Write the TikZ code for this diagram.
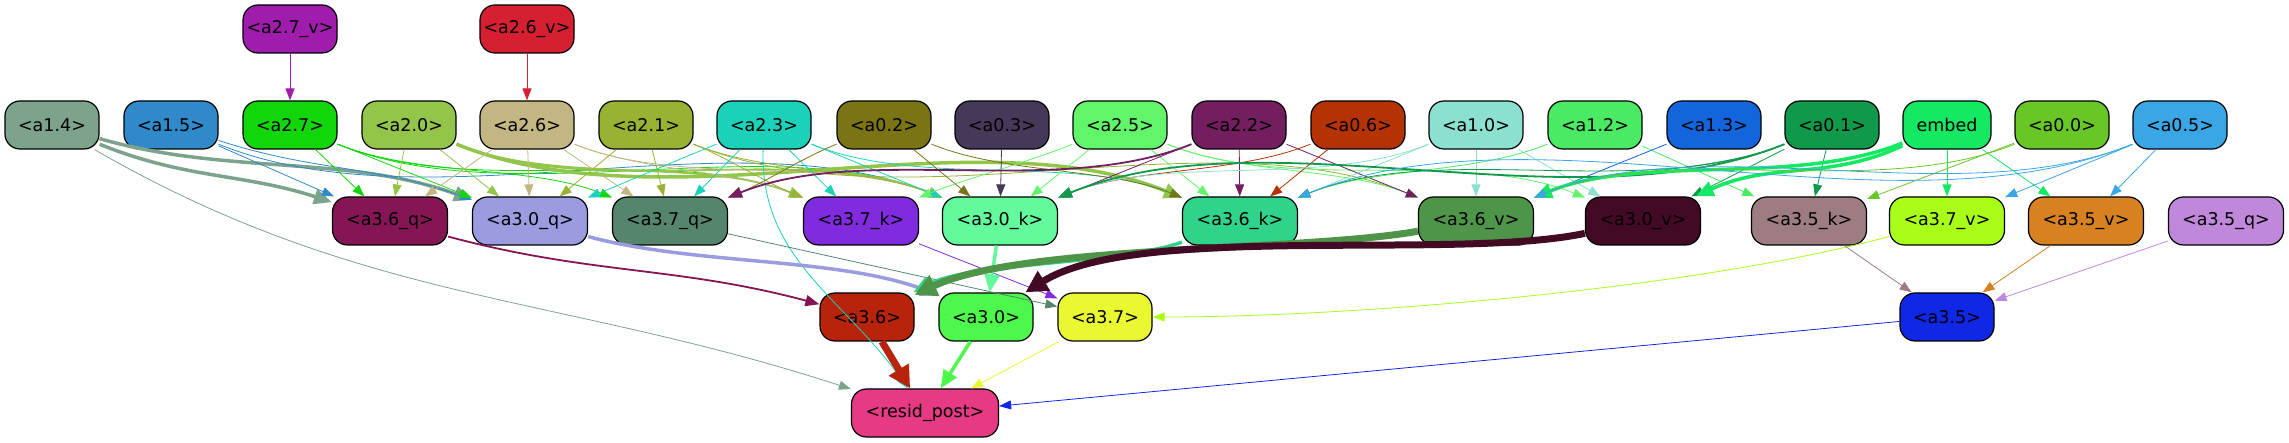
\documentclass[tikz,border=0pt]{standalone}
\usepackage{fontspec}
\setmainfont{DejaVu Sans}
\usetikzlibrary{arrows.meta}
\definecolor{cA27v}{HTML}{A01CAC}
\definecolor{cA26v}{HTML}{D62032}
\definecolor{cA14}{HTML}{7DA38C}
\definecolor{cA15}{HTML}{3089C9}
\definecolor{cA27}{HTML}{10D60A}
\definecolor{cA20}{HTML}{93C54B}
\definecolor{cA26}{HTML}{C3B683}
\definecolor{cA21}{HTML}{98B234}
\definecolor{cA23}{HTML}{1CD1BA}
\definecolor{cA02}{HTML}{7A7414}
\definecolor{cA03}{HTML}{463859}
\definecolor{cA25}{HTML}{62F56A}
\definecolor{cA22}{HTML}{731F5F}
\definecolor{cA06}{HTML}{B53204}
\definecolor{cA10}{HTML}{8BE0CF}
\definecolor{cA12}{HTML}{4BEA65}
\definecolor{cA13}{HTML}{1265DB}
\definecolor{cA01}{HTML}{10984B}
\definecolor{cEmb}{HTML}{15E862}
\definecolor{cA00}{HTML}{68C627}
\definecolor{cA05}{HTML}{3AA6E6}
\definecolor{cQ36}{HTML}{861555}
\definecolor{cQ30}{HTML}{9B9BE0}
\definecolor{cQ37}{HTML}{55856D}
\definecolor{cK37}{HTML}{802CDE}
\definecolor{cK30}{HTML}{62FA9A}
\definecolor{cK36}{HTML}{2FD38A}
\definecolor{cV36}{HTML}{4E9449}
\definecolor{cV30}{HTML}{430A26}
\definecolor{cK35}{HTML}{9D7C82}
\definecolor{cV37}{HTML}{A8FD19}
\definecolor{cV35}{HTML}{D78121}
\definecolor{cQ35}{HTML}{BF88DA}
\definecolor{cB36}{HTML}{B8230C}
\definecolor{cB30}{HTML}{4DF74C}
\definecolor{cB37}{HTML}{EAF831}
\definecolor{cB35}{HTML}{1028E6}
\definecolor{cRes}{HTML}{E63A84}
\tikzset{
  nd/.style={draw=black, line width=1.2pt, rounded corners=15pt, minimum width=94pt, minimum height=48pt, inner sep=0pt, font=\fontsize{17.5}{20}\selectfont, text=black, fill=#1},
  wd/.style={nd=#1, minimum width=115pt},
  ea/.style={draw=#1, line width=0.8pt, -{Triangle[length=12pt,width=9pt]}},
  eb/.style={draw=#1, line width=1.8pt, -{Triangle[length=14pt,width=11pt]}},
  ec/.style={draw=#1, line width=3.5pt, -{Triangle[length=18pt,width=15pt]}},
  ee/.style={draw=#1, line width=7pt, -{Triangle[length=22pt,width=22pt]}},
  R/.style={out=-22,in=158,looseness=0.8},
  L/.style={out=202,in=22,looseness=0.8}
}
\begin{document}
\begin{tikzpicture}[x=1pt,y=1pt]
\useasboundingbox (0,0) rectangle (2289,-443);
% row 0
\node[nd=cA27v] (a27v) at (290,-29) {<a2.7\_v>};
\node[nd=cA26v] (a26v) at (527,-29) {<a2.6\_v>};
% row 1
\node[nd=cA14] (a14) at (52,-125) {<a1.4>};
\node[nd=cA15] (a15) at (171,-125) {<a1.5>};
\node[nd=cA27] (a27) at (290,-125) {<a2.7>};
\node[nd=cA20] (a20) at (409,-125) {<a2.0>};
\node[nd=cA26] (a26) at (527,-125) {<a2.6>};
\node[nd=cA21] (a21) at (646,-125) {<a2.1>};
\node[nd=cA23] (a23) at (764,-125) {<a2.3>};
\node[nd=cA02] (a02) at (884,-125) {<a0.2>};
\node[nd=cA03] (a03) at (1002,-125) {<a0.3>};
\node[nd=cA25] (a25) at (1120,-125) {<a2.5>};
\node[nd=cA22] (a22) at (1239,-125) {<a2.2>};
\node[nd=cA06] (a06) at (1358,-125) {<a0.6>};
\node[nd=cA10] (a10) at (1476,-125) {<a1.0>};
\node[nd=cA12] (a12) at (1595,-125) {<a1.2>};
\node[nd=cA13] (a13) at (1714,-125) {<a1.3>};
\node[nd=cA01] (a01) at (1832,-125) {<a0.1>};
\node[nd=cEmb, minimum width=88pt] (emb) at (1947,-125) {embed};
\node[nd=cA00] (a00) at (2062,-125) {<a0.0>};
\node[nd=cA05] (a05) at (2180,-125) {<a0.5>};
% row 2
\node[wd=cQ36] (q36) at (390,-221) {<a3.6\_q>};
\node[wd=cQ30] (q30) at (530,-221) {<a3.0\_q>};
\node[wd=cQ37] (q37) at (670,-221) {<a3.7\_q>};
\node[wd=cK37] (k37) at (861,-221) {<a3.7\_k>};
\node[wd=cK30] (k30) at (1000,-221) {<a3.0\_k>};
\node[wd=cK36] (k36) at (1240,-221) {<a3.6\_k>};
\node[wd=cV36] (v36) at (1476,-221) {<a3.6\_v>};
\node[wd=cV30] (v30) at (1643,-221) {<a3.0\_v>};
\node[wd=cK35] (k35) at (1809,-221) {<a3.5\_k>};
\node[wd=cV37] (v37) at (1947,-221) {<a3.7\_v>};
\node[wd=cV35] (v35) at (2086,-221) {<a3.5\_v>};
\node[wd=cQ35] (q35) at (2226,-221) {<a3.5\_q>};
% row 3
\node[nd=cB36] (b36) at (867,-317) {<a3.6>};
\node[nd=cB30] (b30) at (986,-317) {<a3.0>};
\node[nd=cB37] (b37) at (1105,-317) {<a3.7>};
\node[nd=cB35] (b35) at (1947,-317) {<a3.5>};
% row 4
\node[nd=cRes, minimum width=147pt] (res) at (925,-413) {<resid\_post>};

% top edges
\draw[ea=cA27v] (a27v) -- (a27);
\draw[ea=cA26v] (a26v) -- (a26);

% row1 -> row2
\draw[ec=cA14] (a14) to[out=-22,in=162] (q36);
\draw[ec=cA14] (a14) to[out=-16,in=160,looseness=0.9] (q30);
\draw[ea=cA14] (a14) to[out=-30,in=162] (res);
\draw[ea=cA15] (a15) -- (q36);
\draw[ea=cA15] (a15) to[out=-18,in=160] (q30);
\draw[ea=cA15] (a15) to[R] (k30);
\draw[ea=cA27] (a27) -- (q36);
\draw[ea=cA27] (a27) -- (q30);
\draw[ea=cA27] (a27) to[R] (q37);
\draw[ea=cA27] (a27) to[R] (k37);
\draw[ea=cA27] (a27) to[R] (k30);
\draw[ea=cA20] (a20) -- (q36);
\draw[ea=cA20] (a20) -- (q30);
\draw[eb=cA20] (a20) to[R] (k37);
\draw[ec=cA20] (a20) to[R] (k36);
\draw[eb=cA20] (a20) to[R] (k30);
\draw[ea=cA26] (a26) -- (q36);
\draw[ea=cA26] (a26) -- (q30);
\draw[ea=cA26] (a26) -- (q37);
\draw[ea=cA26] (a26) to[R] (k37);
\draw[ea=cA26] (a26) to[R] (k30);
\draw[ea=cA21] (a21) -- (q30);
\draw[ea=cA21] (a21) -- (q37);
\draw[ea=cA21] (a21) to[R] (k37);
\draw[ea=cA21] (a21) to[R] (k30);
\draw[ea=cA21] (a21) to[R] (v36);
\draw[ea=cA23] (a23) to[L] (q30);
\draw[ea=cA23] (a23) -- (q37);
\draw[ea=cA23] (a23) -- (k37);
\draw[ea=cA23] (a23) to[R] (k30);
\draw[ea=cA23] (a23) to[R] (k36);
\draw[ea=cA23] (a23) to[out=-92,in=125] (res);
\draw[ea=cA02] (a02) to[L] (q37);
\draw[ea=cA02] (a02) -- (k30);
\draw[ea=cA02] (a02) to[R] (k36);
\draw[ea=cA03] (a03) -- (k30);
\draw[ea=cA25] (a25) to[L] (k37);
\draw[ea=cA25] (a25) -- (k30);
\draw[ea=cA25] (a25) -- (k36);
\draw[ea=cA25] (a25) to[R] (v36);
\draw[ea=cA25] (a25) to[R] (v30);
\draw[eb=cA22] (a22) to[L] (q37);
\draw[ea=cA22] (a22) -- (k30);
\draw[ea=cA22] (a22) -- (k36);
\draw[ea=cA22] (a22) -- (v36);
\draw[ea=cA06] (a06) to[L] (k30);
\draw[ea=cA06] (a06) -- (k36);
\draw[ea=cA10] (a10) to[L] (k30);
\draw[ea=cA10] (a10) -- (k36);
\draw[ea=cA10] (a10) -- (v36);
\draw[ea=cA10] (a10) -- (v30);
\draw[ea=cA12] (a12) to[L] (k36);
\draw[ea=cA12] (a12) -- (k35);
\draw[ea=cA13] (a13) -- (v36);
\draw[ea=cA01] (a01) -- (v30);
\draw[ea=cA01] (a01) -- (k35);
\draw[ea=cA01] (a01) to[L] (k36);
\draw[eb=cA01] (a01) to[L] (k30);
\draw[ea=cA01] (a01) to[L] (v36);
\draw[ec=cEmb] (emb) to[out=205,in=25] (v30);
\draw[ec=cEmb] (emb) to[L] (v36);
\draw[ea=cEmb] (emb) -- (v37);
\draw[ea=cEmb] (emb) -- (v35);
\draw[ea=cA00] (a00) to[L] (v36);
\draw[ea=cA00] (a00) -- (k35);
\draw[ea=cA05] (a05) -- (v37);
\draw[ea=cA05] (a05) -- (v35);
\draw[ea=cA05] (a05) to[L] (v36);
\draw[ea=cA05] (a05) to[L] (k36);

% row2 -> row3
\draw[eb=cQ36] (q36) to[out=-15,in=165] (b36);
\draw[ec=cQ30] (q30) to[out=-15,in=160,looseness=0.8] (b30.155);
\draw[ea=cQ37] (q37) -- (b37);
\draw[ea=cK37] (k37) -- (b37);
\draw[ec=cK30] (k30) -- (b30);
\draw[ec=cK36] (k36) to[out=200,in=28,looseness=0.6] (b36);
\draw[ee=cV36] (v36) to[out=190,in=25,looseness=0.6] (b36);
\draw[ee=cV30] (v30) to[out=192,in=32,looseness=0.6] (b30);
\draw[ea=cV37] (v37) to[out=195,in=0,looseness=0.7] (b37);
\draw[ea=cK35] (k35) -- (b35);
\draw[ea=cV35] (v35) -- (b35);
\draw[ea=cQ35] (q35) -- (b35);

% row3 -> resid
\draw[ee=cB36] (b36) -- (res);
\draw[ec=cB30] (b30) -- (res);
\draw[ea=cB37] (b37) -- (res);
\draw[ea=cB35] (b35) -- (res);
\end{tikzpicture}
\end{document}
